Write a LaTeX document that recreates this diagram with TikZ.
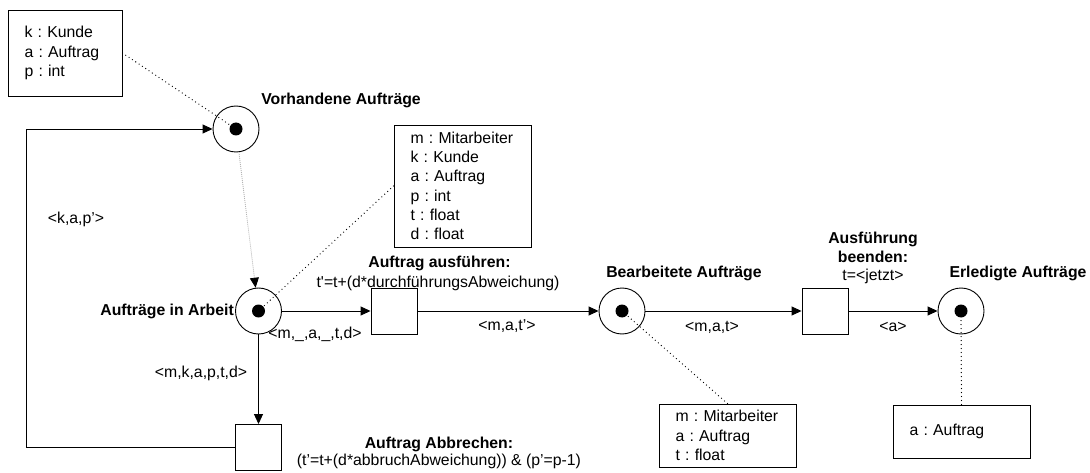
\documentclass[tikz,border=0pt]{standalone}
\usepackage{fontspec}
\setmainfont{Liberation Sans}[Ligatures=TeXOff]
\usetikzlibrary{arrows.meta}
\frenchspacing
\begin{document}
\begin{tikzpicture}[x=1pt,y=-1pt,
  base/.style={font=\fontsize{15.8}{19.3}\selectfont},
  place/.style={draw, circle, minimum size=46pt, inner sep=0pt, line width=0.9pt},
  transition/.style={draw, rectangle, minimum width=46pt, minimum height=46pt, inner sep=0pt, line width=0.9pt},
  decl/.style={draw, rectangle, base, align=left, inner xsep=16.5pt, inner ysep=0pt, line width=0.9pt},
  txt/.style={base, inner sep=0pt},
  bold/.style={inner sep=0pt, font=\fontsize{15.8}{19.3}\selectfont\bfseries},
  arc/.style={line width=0.9pt, -{Triangle[length=10pt,width=9pt]}},
  note/.style={line width=1.3pt, line cap=round, dash pattern=on 0pt off 4pt},
  lightarc/.style={draw=black!30, line width=0.8pt, dash pattern=on 1pt off 1pt,
    -{Triangle[length=10pt,width=9pt,color=black,fill=black]}},
  token/.style={fill=black},
]
\useasboundingbox (0,0) rectangle (1090,473);

% places
\node[place] (p1) at (236,129) {};
\node[place] (p2) at (258.5,311) {};
\node[place] (p3) at (622,311) {};
\node[place] (p4) at (961,311) {};
\foreach \p in {p1,p2,p3,p4} \fill[token] (\p) circle (6.5pt);

% transitions
\node[transition] (t1) at (394,311) {};
\node[transition] (t2) at (825,311) {};
\node[transition] (t3) at (258.5,447.5) {};

% variable declarations
\node[decl, text width=81pt, minimum height=86pt] (d1) at (65,53)
  {k : Kunde\\a : Auftrag\\p : int};
\node[decl, text width=104pt, minimum height=122pt] (d2) at (462.5,186)
  {m : Mitarbeiter\\k : Kunde\\a : Auftrag\\p : int\\t : float\\d : float};
\node[decl, text width=104pt, minimum height=63pt] (d3) at (727.5,435.5)
  {m : Mitarbeiter\\a : Auftrag\\t : float};
\node[decl, text width=104pt, minimum height=53pt] (d4) at (961.5,431.5)
  {a : Auftrag};

% place names
\node[bold] (n1) at (341,100) {Vorhandene Aufträge};
\node[bold, anchor=east] (n2) at (234,311) {Aufträge in Arbeit};
\node[bold] (n3) at (684,273) {Bearbeitete Aufträge};
\node[bold] (n4) at (1018,273) {Erledigte Aufträge};

% transition names and guards
\node[bold] (g1a) at (439.5,263) {Auftrag ausführen:};
\node[txt] (g1b) at (438,283) {t'=t+(d*durchführungsAbweichung)};
\node[bold, align=center] (g2a) at (873,247.5) {Ausführung\\beenden:};
\node[txt] (g2b) at (873,276) {t=<jetzt>};
\node[bold] (g3a) at (439,444) {Auftrag Abbrechen:};
\node[txt] (g3b) at (439,461) {(t’=t+(d*abbruchAbweichung)) \& (p’=p-1)};

% arcs
\coordinate (loop) at (26,129);
\draw[arc] (t3.west) -| (loop) -- (p1);
\draw[lightarc] (p1) -- (p2);
\draw[arc] (p2) -- (t1);
\draw[arc] (t1) -- (p3);
\draw[arc] (p3) -- (t2);
\draw[arc] (t2) -- (p4);
\draw[arc] (p2) -- (t3);

% arc inscriptions
\node[txt] (a0) at (76,219) {<k,a,p’>};
\node[txt] (a1) at (315,334) {<m,\_,a,\_,t,d>};
\node[txt] (a2) at (507,326) {<m,a,t’>};
\node[txt] (a3) at (712,327) {<m,a,t>};
\node[txt] (a4) at (893,327) {<a>};
\node[txt] (a5) at (201,373) {<m,k,a,p,t,d>};

% declaration links
\draw[note] (d1.east) -- (p1.center);
\draw[note] (d2.west) -- (p2.center);
\draw[note] (d3.north) -- (p3.center);
\draw[note] (d4.north) -- (p4.center);
\end{tikzpicture}
\end{document}
